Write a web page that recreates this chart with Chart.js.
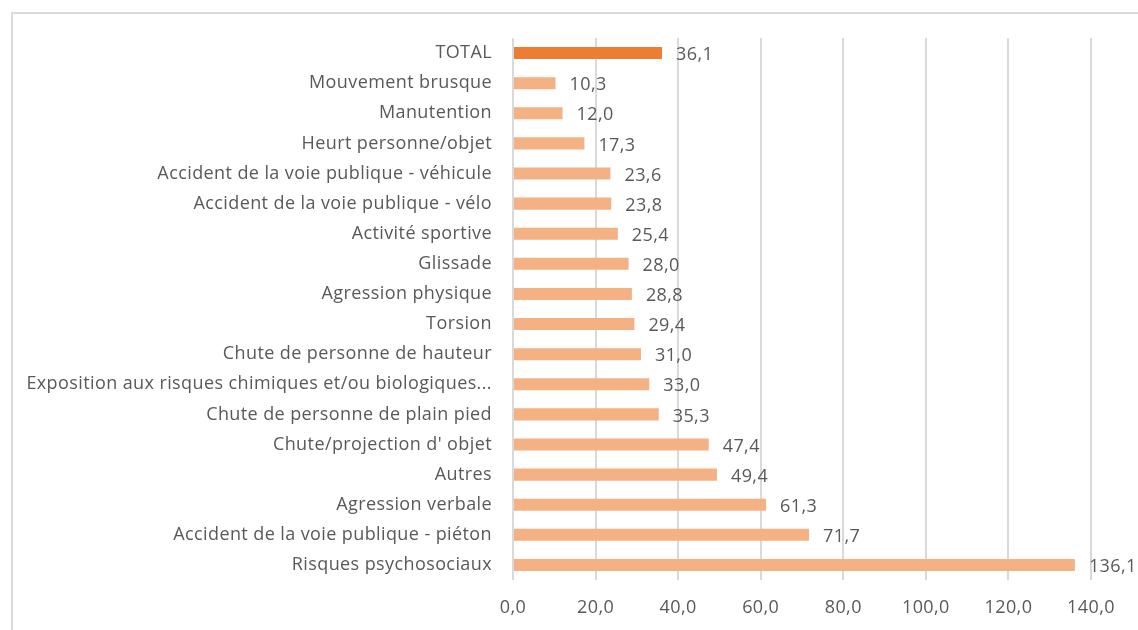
<!DOCTYPE html>
<html>
<head>
<meta charset="utf-8">
<script src="https://cdn.jsdelivr.net/npm/chart.js@4/dist/chart.umd.min.js"></script>
<style>
	html, body { margin: 0; padding: 0; background: #fff; }
	#wrap { position: relative; width: 1138px; height: 630px; }
	#frame { position: absolute; left: 11px; top: 12px; right: 0; bottom: 0; border-left: 2px solid #d9d9d9; border-top: 2px solid #d9d9d9; }
	#chart { position: absolute; left: 0; top: 0; }
</style>
</head>
<body>
<div id="wrap">
	<div id="frame"></div>
	<canvas id="chart" width="1138" height="630"></canvas>
</div>
<script>
var categories = [
	"TOTAL",
	"Mouvement brusque",
	"Manutention",
	"Heurt personne/objet",
	"Accident de la voie publique - véhicule",
	"Accident de la voie publique - vélo",
	"Activité sportive",
	"Glissade",
	"Agression physique",
	"Torsion",
	"Chute de personne de hauteur",
	"Exposition aux risques chimiques et/ou biologiques...",
	"Chute de personne de plain pied",
	"Chute/projection d' objet",
	"Autres",
	"Agression verbale",
	"Accident de la voie publique - piéton",
	"Risques psychosociaux"
];
var values = [36.1, 10.3, 12.0, 17.3, 23.6, 23.8, 25.4, 28.0, 28.8, 29.4, 31.0, 33.0, 35.3, 47.4, 49.4, 61.3, 71.7, 136.1];
var xTicks = [0, 20, 40, 60, 80, 100, 120, 140];

var textColor = "#595959";
var fontFam = "'Open Sans', 'Noto Sans', sans-serif";

function fmt(v){ return v.toFixed(1).replace(".", ","); }

var barColors = categories.map(function(c, i){ return i === 0 ? "#ED7D31" : "#F4B183"; });

// the canvas gets reset by Chart.js, so set the spacing before each draw
var spacing = {
	id: "spacing",
	beforeDraw: function(chart){ chart.ctx.letterSpacing = "0.4px"; }
};

var valueLabels = {
	id: "valueLabels",
	afterDatasetsDraw: function(chart){
		var ctx = chart.ctx;
		var meta = chart.getDatasetMeta(0);
		ctx.save();
		ctx.fillStyle = textColor;
		ctx.font = "18px " + fontFam;
		ctx.textAlign = "left";
		ctx.textBaseline = "middle";
		meta.data.forEach(function(bar, i){
			ctx.fillText(fmt(values[i]), bar.x + 14, bar.y + 2);
		});
		ctx.restore();
	}
};

var ctx = document.getElementById("chart").getContext("2d");
var chart = new Chart(ctx, {
	type: "bar",
	data: {
		labels: categories,
		datasets: [{
			data: values,
			backgroundColor: barColors,
			barPercentage: 0.4,
			categoryPercentage: 1.0
		}]
	},
	options: {
		indexAxis: "y",
		responsive: false,
		animation: false,
		layout: { padding: { top: 38, right: 47, left: 0, bottom: 0 } },
		plugins: {
			legend: { display: false },
			tooltip: { enabled: false }
		},
		scales: {
			x: {
				min: 0,
				max: 140,
				afterBuildTicks: function(scale){
					scale.ticks = xTicks.map(function(v){ return { value: v }; });
				},
				afterFit: function(scale){ scale.height = 50; },
				grid: { color: "#d9d9d9", lineWidth: 2, drawTicks: false },
				border: { display: false },
				ticks: {
					color: textColor,
					font: { family: fontFam, size: 18 },
					padding: 17,
					callback: function(v){ return fmt(v); }
				}
			},
			y: {
				afterFit: function(scale){ scale.width = 513; },
				grid: { display: false, drawTicks: false },
				border: { display: false },
				ticks: {
					color: textColor,
					font: { family: fontFam, size: 18 },
					padding: 21,
					autoSkip: false
				}
			}
		}
	},
	plugins: [spacing, valueLabels]
});
</script>
</body>
</html>
